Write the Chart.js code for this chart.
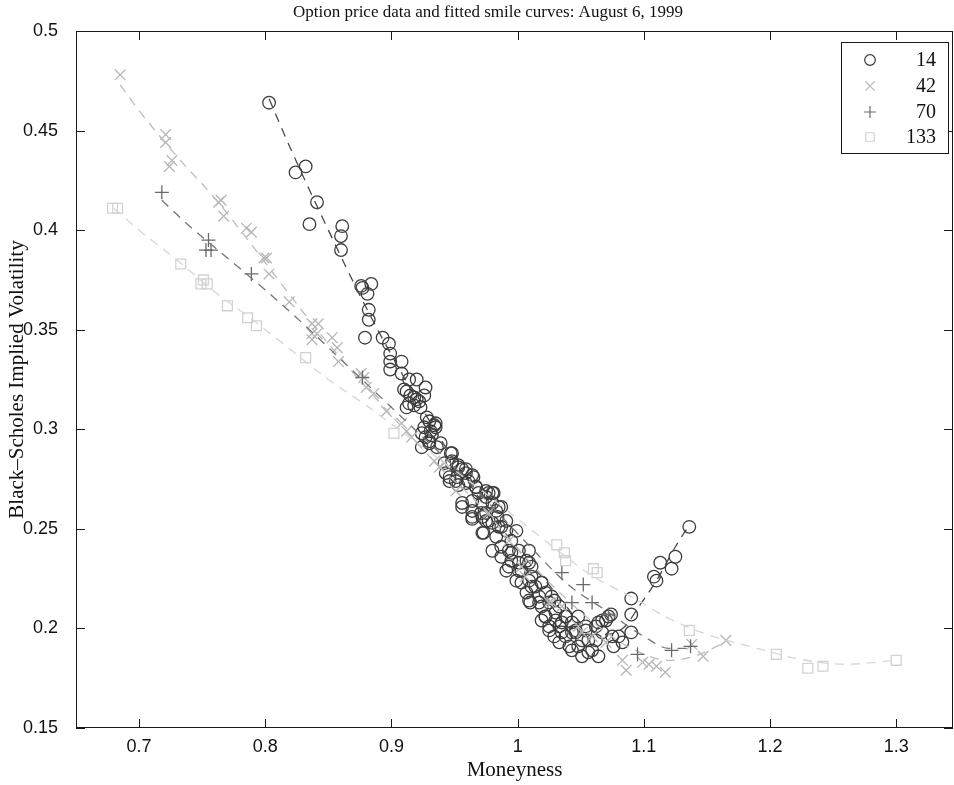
<!DOCTYPE html>
<html>
<head>
<meta charset="utf-8">
<script src="https://cdn.jsdelivr.net/npm/chart.js@4/dist/chart.umd.min.js"></script>
<style>
  body { margin: 0; background: #fff; }
  #wrap { width: 954px; height: 785px; }
</style>
</head>
<body>
<div id="wrap"><canvas id="smileChart" width="954" height="785"></canvas></div>
<script>
// moneyness / implied vol, 14 days
const mny14 = [0.803,0.824,0.832,0.841,0.835,0.861,0.860,0.860,0.876,0.884,
  0.877,0.881,0.882,0.882,0.879,0.893,0.898,0.899,0.899,0.908,
  0.899,0.908,0.914,0.920,0.927,0.910,0.915,0.920,0.912,0.918,
  0.923,0.928,0.935,0.926,0.931,0.927,0.932,0.939,0.924,0.930,
  0.947,0.942,0.948,0.953,0.959,0.965,0.946,0.952,0.959,0.967,
  0.975,0.981,0.956,0.964,0.972,0.980,0.987,0.964,0.971,0.977,
  0.984,0.987,0.975,0.985,0.973,0.995,0.987,1.001,0.995,1.007,
  0.991,1.003,0.999,1.011,1.014,1.007,1.022,1.010,1.019,1.029,
  1.022,1.030,1.038,1.025,1.033,1.043,1.048,1.029,1.038,1.046,
  1.054,1.056,1.041,1.048,1.062,1.067,1.056,1.064,1.075,1.064,
  1.074,1.083,1.076,1.090,1.090,1.090,1.108,1.110,1.113,1.122,1.125,1.136,
  0.934,0.948,0.956,0.964,0.946,0.953,0.969,0.980,0.956,0.964,
  0.975,0.985,0.972,0.983,0.991,0.980,0.987,0.995,0.993,1.001,
  1.009,1.003,1.011,1.019,1.009,1.017,1.027,1.022,1.030,1.038,
  1.025,1.035,1.046,1.054,1.067,1.072,0.912,0.918,0.914,0.922,
  0.926,0.930,0.935,0.924,0.930,0.936,0.948,0.953,0.959,0.943,
  0.951,0.961,0.967,0.975,0.983,0.964,0.972,0.977,0.991,0.980,
  0.999,0.993,1.009,1.001,1.011,1.009,1.019,1.017,1.025,1.033,
  1.019,1.035,1.043,1.033,1.051,1.059,1.051,1.043,1.062,1.070,1.080];
const vol14 = [0.464,0.429,0.432,0.414,0.403,0.402,0.397,0.390,0.372,0.373,
  0.371,0.368,0.360,0.355,0.346,0.346,0.343,0.338,0.334,0.334,
  0.330,0.328,0.325,0.325,0.321,0.320,0.317,0.315,0.311,0.312,
  0.311,0.306,0.303,0.301,0.299,0.296,0.297,0.293,0.291,0.293,
  0.288,0.283,0.283,0.282,0.280,0.276,0.274,0.276,0.273,0.271,
  0.269,0.268,0.261,0.264,0.263,0.263,0.261,0.255,0.258,0.254,
  0.256,0.251,0.258,0.251,0.248,0.244,0.241,0.239,0.234,0.234,
  0.229,0.229,0.224,0.226,0.221,0.218,0.218,0.213,0.211,0.214,
  0.206,0.208,0.206,0.201,0.201,0.203,0.206,0.196,0.196,0.198,
  0.199,0.194,0.191,0.191,0.194,0.198,0.188,0.186,0.196,0.203,
  0.207,0.193,0.191,0.198,0.207,0.215,0.226,0.224,0.233,0.230,0.236,0.251,
  0.302,0.288,0.280,0.277,0.276,0.272,0.268,0.268,0.263,0.256,
  0.254,0.261,0.248,0.246,0.249,0.239,0.236,0.238,0.231,0.229,
  0.233,0.223,0.221,0.223,0.214,0.213,0.216,0.206,0.204,0.206,
  0.199,0.198,0.199,0.201,0.204,0.206,0.319,0.316,0.313,0.314,
  0.317,0.304,0.301,0.298,0.294,0.291,0.284,0.281,0.278,0.278,
  0.274,0.274,0.271,0.266,0.259,0.259,0.256,0.268,0.254,0.253,
  0.249,0.239,0.239,0.233,0.231,0.224,0.223,0.216,0.213,0.211,
  0.204,0.203,0.198,0.193,0.194,0.189,0.186,0.189,0.201,0.204,0.196];

// 42 days
const mny42 = [0.685,0.721,0.721,0.726,0.724,0.765,0.763,0.767,0.785,0.789,
  0.799,0.801,0.803,0.819,0.837,0.842,0.837,0.841,0.837,0.853,
  0.857,0.858,0.876,0.878,0.880,0.886,0.896,0.908,0.912,0.916,
  0.934,0.938,0.942,0.951,0.977,0.993,1.003,1.006,1.025,1.027,
  1.035,1.048,1.051,1.059,1.070,1.083,1.086,1.099,1.104,1.110,
  1.117,1.138,1.147,1.165];
const vol42 = [0.478,0.448,0.444,0.435,0.432,0.415,0.414,0.407,0.401,0.399,
  0.386,0.386,0.378,0.364,0.353,0.353,0.348,0.348,0.345,0.346,
  0.341,0.334,0.328,0.326,0.321,0.318,0.309,0.303,0.299,0.296,
  0.284,0.281,0.283,0.269,0.258,0.244,0.231,0.226,0.213,0.213,
  0.211,0.201,0.198,0.196,0.193,0.184,0.179,0.183,0.182,0.181,
  0.178,0.192,0.186,0.194];

// 70 days
const mny70 = [0.718,0.755,0.753,0.757,0.789,0.877,1.035,1.043,1.052,1.059,1.072,1.095,1.122,1.137];
const vol70 = [0.419,0.395,0.390,0.390,0.378,0.326,0.228,0.213,0.222,0.213,0.207,0.187,0.189,0.191];

// 133 days
const mny133 = [0.679,0.683,0.733,0.751,0.749,0.754,0.770,0.786,0.793,0.832,0.902,
  1.031,1.037,1.038,1.060,1.063,1.136,1.205,1.230,1.242,1.300];
const vol133 = [0.411,0.411,0.383,0.375,0.373,0.373,0.362,0.356,0.352,0.336,0.298,
  0.242,0.238,0.234,0.230,0.228,0.199,0.187,0.180,0.181,0.184];

// fitted smile curves
const fitX14 = [0.803,0.82,0.85,0.88,0.91,0.94,0.97,1.00,1.03,1.05,1.07,1.085,1.096,1.11,1.125,1.136];
const fitY14 = [0.466,0.441,0.400,0.361,0.326,0.294,0.265,0.240,0.218,0.203,0.197,0.201,0.211,0.224,0.241,0.252];
const fitX42 = [0.685,0.70,0.73,0.76,0.79,0.82,0.85,0.88,0.91,0.94,0.97,1.00,1.03,1.06,1.09,1.12,1.14,1.167];
const fitY42 = [0.473,0.460,0.437,0.416,0.392,0.367,0.343,0.321,0.300,0.280,0.262,0.240,0.220,0.203,0.190,0.184,0.186,0.194];
const fitX70 = [0.718,0.74,0.77,0.80,0.83,0.86,0.89,0.92,0.95,0.98,1.01,1.04,1.07,1.10,1.12,1.137];
const fitY70 = [0.415,0.402,0.386,0.370,0.353,0.335,0.317,0.299,0.281,0.261,0.241,0.222,0.209,0.196,0.190,0.190];
const fitX133 = [0.680,0.70,0.73,0.76,0.79,0.82,0.85,0.88,0.91,0.94,0.97,1.00,1.03,1.06,1.09,1.12,1.15,1.19,1.22,1.26,1.30];
const fitY133 = [0.411,0.400,0.385,0.369,0.355,0.340,0.325,0.312,0.298,0.284,0.270,0.255,0.240,0.226,0.216,0.205,0.197,0.190,0.185,0.182,0.184];

const maturities = ["14", "42", "70", "133"];
const xTicks = [0.7, 0.8, 0.9, 1, 1.1, 1.2, 1.3];
const yTicks = [0.15, 0.2, 0.25, 0.3, 0.35, 0.4, 0.45, 0.5];

function toPoints(xs, ys) {
    return xs.map((x, i) => ({ x: x, y: ys[i] }));
}

const styles = [
    { color: "#3c3c3c", line: "#484848", point: "circle", radius: 6.3 },
    { color: "#b6b6b6", line: "#bcbcbc", point: "crossRot", radius: 7.5 },
    { color: "#6a6a6a", line: "#747474", point: "cross", radius: 7 },
    { color: "#d2d2d2", line: "#d6d6d6", point: "rect", radius: 7 },
];
const pts = [toPoints(mny14, vol14), toPoints(mny42, vol42), toPoints(mny70, vol70), toPoints(mny133, vol133)];
const fits = [toPoints(fitX14, fitY14), toPoints(fitX42, fitY42), toPoints(fitX70, fitY70), toPoints(fitX133, fitY133)];

const datasets = [];
styles.forEach((s, i) => {
    datasets.push({
        label: maturities[i],
        type: "scatter",
        data: pts[i],
        pointStyle: s.point,
        pointRadius: s.radius,
        pointBorderColor: s.color,
        pointBackgroundColor: "transparent",
        pointBorderWidth: 1.3,
        showLine: false,
        order: 8 - i * 2,
    });
    datasets.push({
        label: "fit " + maturities[i],
        type: "line",
        data: fits[i],
        borderColor: s.line,
        borderWidth: 1.3,
        borderDash: [9, 7],
        pointRadius: 0,
        fill: false,
        cubicInterpolationMode: "monotone",
        order: 7 - i * 2,
    });
});

// frame, inward ticks, title and legend like the original figure
const figureDecor = {
    id: "figureDecor",
    afterDraw(chart) {
        const ctx = chart.ctx;
        const a = chart.chartArea;
        const xs = chart.scales.x, ys = chart.scales.y;
        ctx.save();
        ctx.strokeStyle = "#1a1a1a";
        ctx.lineWidth = 1;
        ctx.strokeRect(a.left + 0.5, a.top + 0.5, a.right - a.left - 1, a.bottom - a.top - 1);
        const len = 9;
        ctx.beginPath();
        xTicks.forEach((v) => {
            const px = Math.round(xs.getPixelForValue(v)) + 0.5;
            ctx.moveTo(px, a.bottom); ctx.lineTo(px, a.bottom - len);
            ctx.moveTo(px, a.top); ctx.lineTo(px, a.top + len);
        });
        yTicks.forEach((v) => {
            const py = Math.round(ys.getPixelForValue(v)) + 0.5;
            ctx.moveTo(a.left, py); ctx.lineTo(a.left + len, py);
            ctx.moveTo(a.right, py); ctx.lineTo(a.right - len, py);
        });
        ctx.stroke();

        // title
        ctx.fillStyle = "#111";
        ctx.font = '17px "Liberation Serif"';
        ctx.textAlign = "center";
        ctx.textBaseline = "middle";
        ctx.fillText("Option price data and fitted smile curves: August 6, 1999", 488, 13);

        // legend box
        const lx = 841, ly = 42, lw = 107, lh = 111;
        ctx.fillStyle = "#fff";
        ctx.fillRect(lx, ly, lw, lh);
        ctx.strokeStyle = "#1a1a1a";
        ctx.strokeRect(lx + 0.5, ly + 0.5, lw, lh);
        const rows = [60, 86, 112, 137];
        ctx.font = '20px "Liberation Serif"';
        ctx.textAlign = "right";
        styles.forEach((s, i) => {
            ctx.strokeStyle = s.color;
            ctx.fillStyle = "transparent";
            ctx.lineWidth = 1.2;
            Chart.helpers.drawPoint(ctx, { pointStyle: s.point, radius: s.radius - 1, borderWidth: 1.2 }, 870, rows[i]);
            ctx.fillStyle = "#111";
            ctx.fillText(maturities[i], 936, rows[i] + 1);
        });
        ctx.restore();
    },
};

const tickFont = { family: "Liberation Sans", size: 18 };
const titleFont = { family: "Liberation Serif", size: 21 };

new Chart(document.getElementById("smileChart").getContext("2d"), {
    type: "scatter",
    data: { datasets: datasets },
    options: {
        responsive: false,
        animation: false,
        // no extra room for marker overflow, the axes box goes to the right edge
        layout: { autoPadding: false, padding: { top: 31, right: 1, left: 0, bottom: 0 } },
        plugins: {
            legend: { display: false },
            tooltip: { enabled: false },
        },
        scales: {
            x: {
                type: "linear",
                min: 0.65,
                max: 1.345,
                afterBuildTicks: (s) => { s.ticks = xTicks.map((v) => ({ value: v })); },
                afterFit: (s) => { s.height = 57; },
                grid: { display: false, drawTicks: false },
                border: { display: false },
                ticks: {
                    color: "#111",
                    font: tickFont,
                    padding: 8,
                    callback: (v) => String(Math.round(v * 100) / 100),
                },
                title: {
                    display: true,
                    text: "Moneyness",
                    color: "#111",
                    font: titleFont,
                    padding: { top: 0, bottom: 2 },
                },
            },
            y: {
                type: "linear",
                min: 0.15,
                max: 0.5,
                afterBuildTicks: (s) => { s.ticks = yTicks.map((v) => ({ value: v })); },
                afterFit: (s) => { s.width = 76; },
                grid: { display: false, drawTicks: false },
                border: { display: false },
                ticks: {
                    color: "#111",
                    font: tickFont,
                    padding: 18,
                    callback: (v) => String(Math.round(v * 100) / 100),
                },
                title: {
                    display: true,
                    text: "Black–Scholes Implied Volatility",
                    color: "#111",
                    font: titleFont,
                    padding: { top: 5, bottom: 0 },
                },
            },
        },
    },
    plugins: [figureDecor],
});
</script>
</body>
</html>
